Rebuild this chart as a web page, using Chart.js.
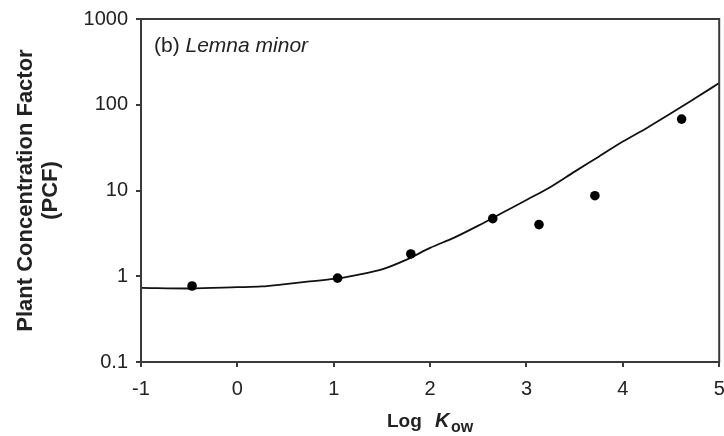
<!DOCTYPE html>
<html>
<head>
<meta charset="utf-8">
<script src="https://cdn.jsdelivr.net/npm/chart.js@4"></script>
<style>
    html, body { margin: 0; padding: 0; background: #fff; }
    #wrap { width: 724px; height: 436px; }
</style>
</head>
<body>
<div id="wrap"><canvas id="pcfChart" width="724" height="436"></canvas></div>
<script>
// Measured data (Lemna minor)
const measuredLogKow = [-0.47, 1.04, 1.80, 2.65, 3.13, 3.71, 4.61];
const measuredPcf = [0.77, 0.95, 1.82, 4.7, 4.0, 8.7, 68];

// Model curve
const modelLogKow = [-1, -0.5, 0, 0.25, 0.5, 0.75, 1.0, 1.25, 1.5, 1.75, 2.0, 2.25, 2.5, 2.75, 3.0, 3.25, 3.5, 3.75, 4.0, 4.25, 4.5, 4.75, 5.0];
const modelPcf = [0.73, 0.72, 0.745, 0.76, 0.81, 0.87, 0.93, 1.04, 1.2, 1.55, 2.14, 2.82, 3.89, 5.5, 7.76, 11.0, 16.6, 24.8, 37.2, 53.7, 79.4, 119, 179];

// Axis ticks
const xTicks = [-1, 0, 1, 2, 3, 4, 5];
const yTicks = [0.1, 1, 10, 100, 1000];

const fontFamily = '"Liberation Sans", Arial, sans-serif';
const axisColor = '#3a3a3a';
const textColor = '#222';

const toPoints = (xs, ys) => xs.map((x, i) => ({ x: x, y: ys[i] }));

// Frame, panel label and x axis title (needs subscript)
const extrasPlugin = {
    id: 'extras',
    afterDraw(chart) {
        const ctx = chart.ctx;
        const a = chart.chartArea;
        ctx.save();
        ctx.strokeStyle = axisColor;
        ctx.lineWidth = 2;
        ctx.strokeRect(a.left, a.top, a.right - a.left, a.bottom - a.top);

        ctx.fillStyle = textColor;
        ctx.textBaseline = 'alphabetic';
        ctx.textAlign = 'left';

        // panel label
        ctx.font = `21px ${fontFamily}`;
        ctx.fillText('(b) ', 154, 51.5);
        const w = ctx.measureText('(b) ').width;
        ctx.font = `italic 21px ${fontFamily}`;
        ctx.fillText('Lemna minor', 154 + w, 51.5);

        // x axis title: Log K_ow
        ctx.font = `bold 19px ${fontFamily}`;
        ctx.fillText('Log', 387, 426.5);
        ctx.font = `italic bold 20px ${fontFamily}`;
        ctx.fillText('K', 435, 426.5);
        ctx.font = `bold 16px ${fontFamily}`;
        ctx.fillText('ow', 451, 432);
        ctx.restore();
    }
};

const ctx = document.getElementById('pcfChart').getContext('2d');
const pcfChart = new Chart(ctx, {
    type: 'scatter',
    plugins: [extrasPlugin],
    data: {
        datasets: [
            {
                type: 'line',
                data: toPoints(modelLogKow, modelPcf),
                borderColor: '#111',
                borderWidth: 1.8,
                pointRadius: 0,
                cubicInterpolationMode: 'monotone',
                fill: false,
                order: 2
            },
            {
                data: toPoints(measuredLogKow, measuredPcf),
                backgroundColor: '#000',
                borderWidth: 0,
                pointRadius: 4.8,
                order: 1
            }
        ]
    },
    options: {
        responsive: false,
        animation: false,
        devicePixelRatio: 1,
        layout: { padding: { top: 19, right: 3, left: 0, bottom: 0 } },
        plugins: {
            legend: { display: false },
            tooltip: { enabled: false }
        },
        scales: {
            x: {
                type: 'linear',
                min: -1,
                max: 5,
                afterBuildTicks: s => { s.ticks = xTicks.map(v => ({ value: v })); },
                afterFit: s => {
                    s.height = 74;
                    s.paddingLeft = 0;
                    s.paddingRight = 0;
                },
                grid: { drawOnChartArea: false, drawTicks: true, tickLength: 5, color: axisColor, lineWidth: 2 },
                border: { display: true, color: axisColor, width: 2 },
                ticks: {
                    padding: 10,
                    color: textColor,
                    font: { family: fontFamily, size: 20 },
                    callback: v => String(v)
                }
            },
            y: {
                type: 'logarithmic',
                min: 0.1,
                max: 1000,
                afterBuildTicks: s => { s.ticks = yTicks.map(v => ({ value: v })); },
                afterFit: s => {
                    s.width = 141;
                    s.paddingTop = 0;
                    s.paddingBottom = 0;
                },
                grid: { drawOnChartArea: false, drawTicks: true, tickLength: 5, color: axisColor, lineWidth: 2 },
                border: { display: true, color: axisColor, width: 2 },
                ticks: {
                    padding: 8,
                    color: textColor,
                    font: { family: fontFamily, size: 20 },
                    callback: v => String(v)
                },
                title: {
                    display: true,
                    text: ['Plant Concentration Factor', '(PCF)'],
                    color: textColor,
                    font: { family: fontFamily, size: 22, weight: 'bold', lineHeight: 1.11 },
                    padding: { top: 14, bottom: 0 }
                }
            }
        }
    }
});
</script>
</body>
</html>
